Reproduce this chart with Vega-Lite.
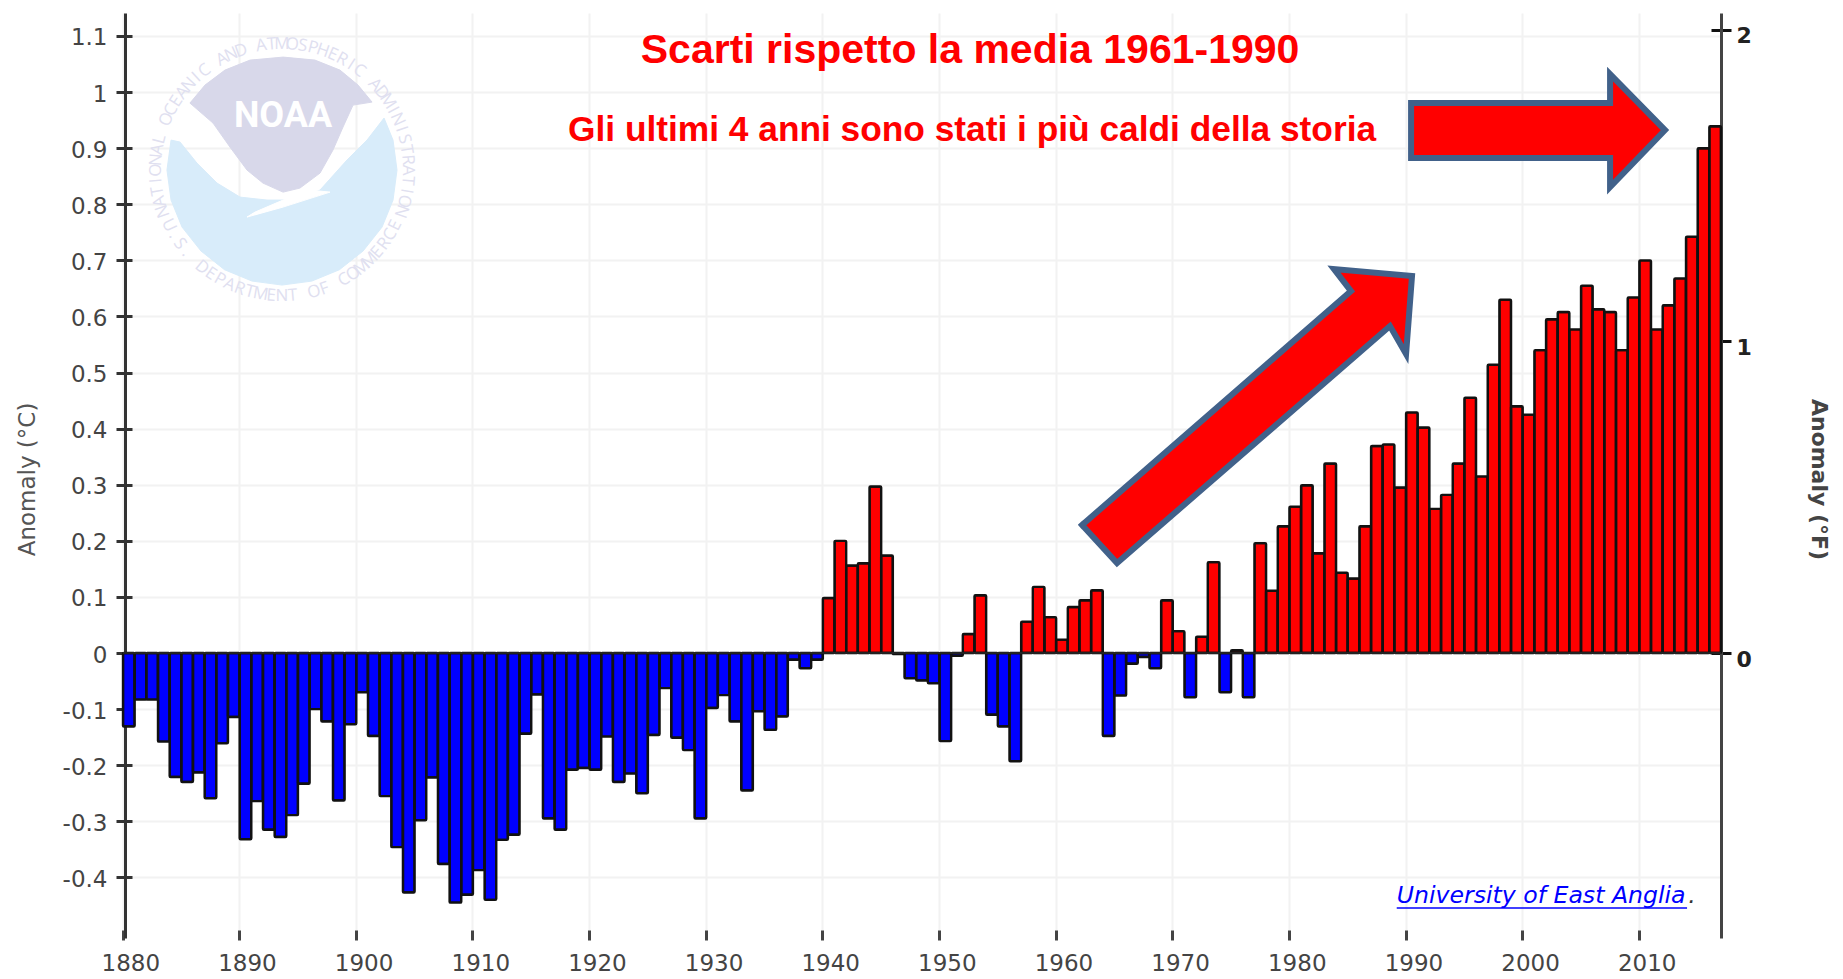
{"$schema":"https://vega.github.io/schema/vega-lite/v6.json","width":1598,"height":925,"autosize":{"type":"none"},"padding":{"left":123,"top":13,"right":122,"bottom":41},"background":"#ffffff","config":{"view":{"stroke":null}},"resolve":{"scale":{"x":"independent","y":"independent"},"axis":{"x":"independent","y":"independent"}},"layer":[
{"data":{"values":[{"year":1880,"anomaly":-0.131,"sign":"neg"},{"year":1881,"anomaly":-0.083,"sign":"neg"},{"year":1882,"anomaly":-0.083,"sign":"neg"},{"year":1883,"anomaly":-0.158,"sign":"neg"},{"year":1884,"anomaly":-0.221,"sign":"neg"},{"year":1885,"anomaly":-0.23,"sign":"neg"},{"year":1886,"anomaly":-0.213,"sign":"neg"},{"year":1887,"anomaly":-0.259,"sign":"neg"},{"year":1888,"anomaly":-0.161,"sign":"neg"},{"year":1889,"anomaly":-0.114,"sign":"neg"},{"year":1890,"anomaly":-0.332,"sign":"neg"},{"year":1891,"anomaly":-0.264,"sign":"neg"},{"year":1892,"anomaly":-0.315,"sign":"neg"},{"year":1893,"anomaly":-0.328,"sign":"neg"},{"year":1894,"anomaly":-0.289,"sign":"neg"},{"year":1895,"anomaly":-0.233,"sign":"neg"},{"year":1896,"anomaly":-0.1,"sign":"neg"},{"year":1897,"anomaly":-0.122,"sign":"neg"},{"year":1898,"anomaly":-0.263,"sign":"neg"},{"year":1899,"anomaly":-0.127,"sign":"neg"},{"year":1900,"anomaly":-0.07,"sign":"neg"},{"year":1901,"anomaly":-0.148,"sign":"neg"},{"year":1902,"anomaly":-0.255,"sign":"neg"},{"year":1903,"anomaly":-0.346,"sign":"neg"},{"year":1904,"anomaly":-0.427,"sign":"neg"},{"year":1905,"anomaly":-0.298,"sign":"neg"},{"year":1906,"anomaly":-0.222,"sign":"neg"},{"year":1907,"anomaly":-0.376,"sign":"neg"},{"year":1908,"anomaly":-0.445,"sign":"neg"},{"year":1909,"anomaly":-0.431,"sign":"neg"},{"year":1910,"anomaly":-0.387,"sign":"neg"},{"year":1911,"anomaly":-0.44,"sign":"neg"},{"year":1912,"anomaly":-0.333,"sign":"neg"},{"year":1913,"anomaly":-0.324,"sign":"neg"},{"year":1914,"anomaly":-0.144,"sign":"neg"},{"year":1915,"anomaly":-0.074,"sign":"neg"},{"year":1916,"anomaly":-0.295,"sign":"neg"},{"year":1917,"anomaly":-0.315,"sign":"neg"},{"year":1918,"anomaly":-0.208,"sign":"neg"},{"year":1919,"anomaly":-0.205,"sign":"neg"},{"year":1920,"anomaly":-0.208,"sign":"neg"},{"year":1921,"anomaly":-0.149,"sign":"neg"},{"year":1922,"anomaly":-0.23,"sign":"neg"},{"year":1923,"anomaly":-0.215,"sign":"neg"},{"year":1924,"anomaly":-0.25,"sign":"neg"},{"year":1925,"anomaly":-0.146,"sign":"neg"},{"year":1926,"anomaly":-0.0625,"sign":"neg"},{"year":1927,"anomaly":-0.151,"sign":"neg"},{"year":1928,"anomaly":-0.173,"sign":"neg"},{"year":1929,"anomaly":-0.295,"sign":"neg"},{"year":1930,"anomaly":-0.098,"sign":"neg"},{"year":1931,"anomaly":-0.075,"sign":"neg"},{"year":1932,"anomaly":-0.122,"sign":"neg"},{"year":1933,"anomaly":-0.245,"sign":"neg"},{"year":1934,"anomaly":-0.104,"sign":"neg"},{"year":1935,"anomaly":-0.137,"sign":"neg"},{"year":1936,"anomaly":-0.113,"sign":"neg"},{"year":1937,"anomaly":-0.012,"sign":"neg"},{"year":1938,"anomaly":-0.027,"sign":"neg"},{"year":1939,"anomaly":-0.012,"sign":"neg"},{"year":1940,"anomaly":0.098,"sign":"pos"},{"year":1941,"anomaly":0.2,"sign":"pos"},{"year":1942,"anomaly":0.156,"sign":"pos"},{"year":1943,"anomaly":0.16,"sign":"pos"},{"year":1944,"anomaly":0.297,"sign":"pos"},{"year":1945,"anomaly":0.174,"sign":"pos"},{"year":1946,"anomaly":-0.002,"sign":"neg"},{"year":1947,"anomaly":-0.045,"sign":"neg"},{"year":1948,"anomaly":-0.049,"sign":"neg"},{"year":1949,"anomaly":-0.054,"sign":"neg"},{"year":1950,"anomaly":-0.157,"sign":"neg"},{"year":1951,"anomaly":-0.005,"sign":"neg"},{"year":1952,"anomaly":0.034,"sign":"pos"},{"year":1953,"anomaly":0.103,"sign":"pos"},{"year":1954,"anomaly":-0.11,"sign":"neg"},{"year":1955,"anomaly":-0.131,"sign":"neg"},{"year":1956,"anomaly":-0.193,"sign":"neg"},{"year":1957,"anomaly":0.056,"sign":"pos"},{"year":1958,"anomaly":0.118,"sign":"pos"},{"year":1959,"anomaly":0.064,"sign":"pos"},{"year":1960,"anomaly":0.024,"sign":"pos"},{"year":1961,"anomaly":0.082,"sign":"pos"},{"year":1962,"anomaly":0.094,"sign":"pos"},{"year":1963,"anomaly":0.112,"sign":"pos"},{"year":1964,"anomaly":-0.148,"sign":"neg"},{"year":1965,"anomaly":-0.076,"sign":"neg"},{"year":1966,"anomaly":-0.019,"sign":"neg"},{"year":1967,"anomaly":-0.007,"sign":"neg"},{"year":1968,"anomaly":-0.027,"sign":"neg"},{"year":1969,"anomaly":0.094,"sign":"pos"},{"year":1970,"anomaly":0.039,"sign":"pos"},{"year":1971,"anomaly":-0.079,"sign":"neg"},{"year":1972,"anomaly":0.029,"sign":"pos"},{"year":1973,"anomaly":0.162,"sign":"pos"},{"year":1974,"anomaly":-0.07,"sign":"neg"},{"year":1975,"anomaly":0.005,"sign":"pos"},{"year":1976,"anomaly":-0.079,"sign":"neg"},{"year":1977,"anomaly":0.196,"sign":"pos"},{"year":1978,"anomaly":0.111,"sign":"pos"},{"year":1979,"anomaly":0.226,"sign":"pos"},{"year":1980,"anomaly":0.261,"sign":"pos"},{"year":1981,"anomaly":0.299,"sign":"pos"},{"year":1982,"anomaly":0.178,"sign":"pos"},{"year":1983,"anomaly":0.338,"sign":"pos"},{"year":1984,"anomaly":0.143,"sign":"pos"},{"year":1985,"anomaly":0.133,"sign":"pos"},{"year":1986,"anomaly":0.226,"sign":"pos"},{"year":1987,"anomaly":0.369,"sign":"pos"},{"year":1988,"anomaly":0.372,"sign":"pos"},{"year":1989,"anomaly":0.295,"sign":"pos"},{"year":1990,"anomaly":0.429,"sign":"pos"},{"year":1991,"anomaly":0.402,"sign":"pos"},{"year":1992,"anomaly":0.257,"sign":"pos"},{"year":1993,"anomaly":0.282,"sign":"pos"},{"year":1994,"anomaly":0.338,"sign":"pos"},{"year":1995,"anomaly":0.455,"sign":"pos"},{"year":1996,"anomaly":0.315,"sign":"pos"},{"year":1997,"anomaly":0.514,"sign":"pos"},{"year":1998,"anomaly":0.63,"sign":"pos"},{"year":1999,"anomaly":0.44,"sign":"pos"},{"year":2000,"anomaly":0.425,"sign":"pos"},{"year":2001,"anomaly":0.54,"sign":"pos"},{"year":2002,"anomaly":0.595,"sign":"pos"},{"year":2003,"anomaly":0.608,"sign":"pos"},{"year":2004,"anomaly":0.577,"sign":"pos"},{"year":2005,"anomaly":0.655,"sign":"pos"},{"year":2006,"anomaly":0.613,"sign":"pos"},{"year":2007,"anomaly":0.608,"sign":"pos"},{"year":2008,"anomaly":0.54,"sign":"pos"},{"year":2009,"anomaly":0.634,"sign":"pos"},{"year":2010,"anomaly":0.7,"sign":"pos"},{"year":2011,"anomaly":0.577,"sign":"pos"},{"year":2012,"anomaly":0.62,"sign":"pos"},{"year":2013,"anomaly":0.668,"sign":"pos"},{"year":2014,"anomaly":0.742,"sign":"pos"},{"year":2015,"anomaly":0.9,"sign":"pos"},{"year":2016,"anomaly":0.939,"sign":"pos"}]},
"mark":{"type":"bar","stroke":"#111111","strokeWidth":2.4,"cornerRadius":1},
"encoding":{
"x":{"field":"year","type":"ordinal","scale":{"paddingInner":0,"paddingOuter":0},"axis":{"bandPosition":0,"values":[1880,1890,1900,1910,1920,1930,1940,1950,1960,1970,1980,1990,2000,2010],"labelAngle":0,"title":null,"domain":false,"offset":-8,"tickSize":10,"tickWidth":3,"tickColor":"#444444","grid":true,"gridColor":"#f2f2f2","gridWidth":2,"labelFont":"DejaVu Sans","labelFontSize":23,"labelColor":"#444444","labelPadding":12,"labelOffset":2}},
"y":{"field":"anomaly","type":"quantitative","scale":{"domain":[-0.508,1.141],"nice":false,"zero":false},"axis":{"orient":"left","values":[-0.4,-0.3,-0.2,-0.1,0,0.1,0.2,0.3,0.4,0.5,0.6,0.7,0.8,0.9,1,1.1],"labelExpr":"datum.value < 0 ? '-' + format(-datum.value, '~g') : format(datum.value, '~g')","offset":-9,"domain":false,"tickSize":16,"tickWidth":3,"tickColor":"#333333","grid":true,"gridColor":"#f2f2f2","gridWidth":2,"labelFont":"DejaVu Sans","labelFontSize":23,"labelColor":"#444444","labelPadding":9,"labelOffset":2,"title":"Anomaly (°C)","titleFont":"DejaVu Sans","titleFontSize":23,"titleFontWeight":"normal","titleColor":"#555555","titlePadding":23,"titleY":466}},
"fill":{"field":"sign","type":"nominal","scale":{"domain":["neg","pos"],"range":["#0000ff","#ff0000"]},"legend":null}}},
{"data":{"values":[{"c":0}]},"mark":{"type":"rule","stroke":"#222222","strokeWidth":2},"encoding":{"y":{"field":"c","type":"quantitative","scale":{"domain":[-0.508,1.141],"nice":false,"zero":false},"axis":{"orient":"left","offset":-2,"domain":true,"domainColor":"#333333","domainWidth":3,"ticks":false,"labels":false,"grid":false,"title":null}}}},
{"data":{"values":[{"f":0}]},"mark":{"type":"tick","opacity":0},"encoding":{"y":{"field":"f","type":"quantitative","scale":{"domain":[-0.9144,2.0538],"nice":false,"zero":false},"axis":{"orient":"right","values":[0,1,2],"format":"d","offset":-10,"domain":false,"tickSize":20,"tickWidth":3,"tickColor":"#111111","grid":false,"labelFont":"DejaVu Sans","labelFontSize":22,"labelFontWeight":"bold","labelColor":"#222222","labelPadding":5,"labelOffset":6,"title":"Anomaly (°F)","titleFont":"DejaVu Sans","titleFontSize":22,"titleFontWeight":"bold","titleColor":"#444444","titlePadding":55,"titleY":466}}}},
{"data":{"values":[{"f":0}]},"mark":{"type":"tick","opacity":0},"encoding":{"y":{"field":"f","type":"quantitative","scale":{"domain":[-0.9144,2.0538],"nice":false,"zero":false},"axis":{"orient":"right","offset":0,"domain":true,"domainColor":"#444444","domainWidth":3,"ticks":false,"labels":false,"grid":false,"title":null}}}},
{"data":{"values":[{"k":0,"px":1902.38,"v":0.9537},{"k":1,"px":1903.15,"v":0.9144},{"k":2,"px":1903.49,"v":0.861},{"k":3,"px":1903.15,"v":0.8075},{"k":4,"px":1902.21,"v":0.7594},{"k":5,"px":1900.58,"v":0.7166},{"k":6,"px":1898.56,"v":0.6834},{"k":7,"px":1896.19,"v":0.6631},{"k":8,"px":1893.63,"v":0.656},{"k":9,"px":1891.06,"v":0.6631},{"k":10,"px":1888.7,"v":0.6834},{"k":11,"px":1886.69,"v":0.7166},{"k":12,"px":1885.06,"v":0.7594},{"k":13,"px":1884.12,"v":0.8075},{"k":14,"px":1883.77,"v":0.861},{"k":15,"px":1884.12,"v":0.9144},{"k":16,"px":1884.89,"v":0.9109},{"k":17,"px":1886.34,"v":0.8734},{"k":18,"px":1888.06,"v":0.8378},{"k":19,"px":1890.03,"v":0.8128},{"k":20,"px":1892.35,"v":0.8075},{"k":21,"px":1894.57,"v":0.8075},{"k":22,"px":1896.89,"v":0.8253},{"k":23,"px":1899.2,"v":0.8788},{"k":24,"px":1900.92,"v":0.9144},{"k":25,"px":1902.38,"v":0.9537}]},"mark":{"type":"line","fill":"#d8ecfa","stroke":"#d8ecfa","strokeWidth":1},"encoding":{"order":{"field":"k","type":"quantitative"},"x":{"field":"px","type":"quantitative","scale":{"domain":[1880,2017],"nice":false,"zero":false},"axis":null},"y":{"field":"v","type":"quantitative","scale":{"domain":[-0.508,1.141],"nice":false,"zero":false},"axis":null}}},
{"data":{"values":[{"k":0,"px":1890.63,"v":0.7772},{"k":1,"px":1893.72,"v":0.795},{"k":2,"px":1897.75,"v":0.8217},{"k":3,"px":1896.03,"v":0.8253},{"k":4,"px":1893.72,"v":0.8075},{"k":5,"px":1891.32,"v":0.7861},{"k":6,"px":1890.63,"v":0.7772}]},"mark":{"type":"line","fill":"#ffffff","stroke":"#ffffff","strokeWidth":1},"encoding":{"order":{"field":"k","type":"quantitative"},"x":{"field":"px","type":"quantitative","scale":{"domain":[1880,2017],"nice":false,"zero":false},"axis":null},"y":{"field":"v","type":"quantitative","scale":{"domain":[-0.508,1.141],"nice":false,"zero":false},"axis":null}}},
{"data":{"values":[{"k":0,"px":1885.74,"v":0.9804},{"k":1,"px":1887.03,"v":1.0125},{"k":2,"px":1888.74,"v":1.0392},{"k":3,"px":1890.89,"v":1.057},{"k":4,"px":1893.72,"v":1.0624},{"k":5,"px":1896.46,"v":1.057},{"k":6,"px":1898.6,"v":1.0392},{"k":7,"px":1900.15,"v":1.0125},{"k":8,"px":1901.35,"v":0.9822},{"k":9,"px":1899.72,"v":0.9768},{"k":10,"px":1898.86,"v":0.9376},{"k":11,"px":1898.0,"v":0.8966},{"k":12,"px":1896.89,"v":0.8556},{"k":13,"px":1895.17,"v":0.8289},{"k":14,"px":1893.72,"v":0.8217},{"k":15,"px":1892.0,"v":0.8378},{"k":16,"px":1890.63,"v":0.861},{"k":17,"px":1889.17,"v":0.902},{"k":18,"px":1887.72,"v":0.9447},{"k":19,"px":1885.74,"v":0.9804}]},"mark":{"type":"line","fill":"#d8d8ea","stroke":"#d8d8ea","strokeWidth":1},"encoding":{"order":{"field":"k","type":"quantitative"},"x":{"field":"px","type":"quantitative","scale":{"domain":[1880,2017],"nice":false,"zero":false},"axis":null},"y":{"field":"v","type":"quantitative","scale":{"domain":[-0.508,1.141],"nice":false,"zero":false},"axis":null}}},
{"data":{"values":[{"t":"NOAA","px":1893.72,"v":0.957}]},"mark":{"type":"text","font":"Roboto","fontWeight":"bold","fontSize":36,"fill":"#ffffff","align":"center","baseline":"middle"},"encoding":{"text":{"field":"t"},"x":{"field":"px","type":"quantitative","scale":{"domain":[1880,2017],"nice":false,"zero":false},"axis":null},"y":{"field":"v","type":"quantitative","scale":{"domain":[-0.508,1.141],"nice":false,"zero":false},"axis":null}}},
{"data":{"values":[{"ch":"N","deg":-109,"rot":-109},{"ch":"A","deg":-104.3,"rot":-104.3},{"ch":"T","deg":-99.5,"rot":-99.5},{"ch":"I","deg":-94.8,"rot":-94.8},{"ch":"O","deg":-90,"rot":-90},{"ch":"N","deg":-85.3,"rot":-85.3},{"ch":"A","deg":-80.6,"rot":-80.6},{"ch":"L","deg":-75.8,"rot":-75.8},{"ch":"O","deg":-66.3,"rot":-66.3},{"ch":"C","deg":-61.6,"rot":-61.6},{"ch":"E","deg":-56.9,"rot":-56.9},{"ch":"A","deg":-52.1,"rot":-52.1},{"ch":"N","deg":-47.4,"rot":-47.4},{"ch":"I","deg":-42.6,"rot":-42.6},{"ch":"C","deg":-37.9,"rot":-37.9},{"ch":"A","deg":-28.4,"rot":-28.4},{"ch":"N","deg":-23.7,"rot":-23.7},{"ch":"D","deg":-18.9,"rot":-18.9},{"ch":"A","deg":-9.5,"rot":-9.5},{"ch":"T","deg":-4.7,"rot":-4.7},{"ch":"M","deg":0,"rot":0},{"ch":"O","deg":4.7,"rot":4.7},{"ch":"S","deg":9.5,"rot":9.5},{"ch":"P","deg":14.2,"rot":14.2},{"ch":"H","deg":18.9,"rot":18.9},{"ch":"E","deg":23.7,"rot":23.7},{"ch":"R","deg":28.4,"rot":28.4},{"ch":"I","deg":33.2,"rot":33.2},{"ch":"C","deg":37.9,"rot":37.9},{"ch":"A","deg":47.4,"rot":47.4},{"ch":"D","deg":52.1,"rot":52.1},{"ch":"M","deg":56.9,"rot":56.9},{"ch":"I","deg":61.6,"rot":61.6},{"ch":"N","deg":66.3,"rot":66.3},{"ch":"I","deg":71.1,"rot":71.1},{"ch":"S","deg":75.8,"rot":75.8},{"ch":"T","deg":80.6,"rot":80.6},{"ch":"R","deg":85.3,"rot":85.3},{"ch":"A","deg":90,"rot":90},{"ch":"T","deg":94.8,"rot":94.8},{"ch":"I","deg":99.5,"rot":99.5},{"ch":"O","deg":104.3,"rot":104.3},{"ch":"N","deg":109,"rot":109},{"ch":"U","deg":244,"rot":64},{"ch":".","deg":239.1,"rot":59.1},{"ch":"S","deg":234.2,"rot":54.2},{"ch":".","deg":229.2,"rot":49.2},{"ch":"D","deg":219.4,"rot":39.4},{"ch":"E","deg":214.5,"rot":34.5},{"ch":"P","deg":209.5,"rot":29.5},{"ch":"A","deg":204.6,"rot":24.6},{"ch":"R","deg":199.7,"rot":19.7},{"ch":"T","deg":194.8,"rot":14.8},{"ch":"M","deg":189.8,"rot":9.8},{"ch":"E","deg":184.9,"rot":4.9},{"ch":"N","deg":180,"rot":0},{"ch":"T","deg":175.1,"rot":-4.9},{"ch":"O","deg":165.2,"rot":-14.8},{"ch":"F","deg":160.3,"rot":-19.7},{"ch":"C","deg":150.5,"rot":-29.5},{"ch":"O","deg":145.5,"rot":-34.5},{"ch":"M","deg":140.6,"rot":-39.4},{"ch":"M","deg":135.7,"rot":-44.3},{"ch":"E","deg":130.8,"rot":-49.2},{"ch":"R","deg":125.8,"rot":-54.2},{"ch":"C","deg":120.9,"rot":-59.1},{"ch":"E","deg":116,"rot":-64}]},"mark":{"type":"text","font":"Open Sans","fontSize":17,"fill":"#e0e0f0","align":"center","baseline":"middle","radius":126},"encoding":{"text":{"field":"ch"},"theta":{"field":"deg","type":"quantitative","scale":{"domain":[-360,360],"range":[-6.28319,6.28319]}},"angle":{"field":"rot","type":"quantitative","scale":null},"x":{"datum":1893.63,"type":"quantitative","scale":{"domain":[1880,2017],"nice":false,"zero":false},"axis":null},"y":{"datum":0.861,"type":"quantitative","scale":{"domain":[-0.508,1.141],"nice":false,"zero":false},"axis":null}}},
{"data":{"values":[{"k":0,"px":1990.43,"v":0.9804},{"k":1,"px":2007.49,"v":0.9804},{"k":2,"px":2007.49,"v":1.0321},{"k":3,"px":2012.2,"v":0.9323},{"k":4,"px":2007.49,"v":0.8307},{"k":5,"px":2007.49,"v":0.8824},{"k":6,"px":1990.43,"v":0.8824},{"k":7,"px":1990.43,"v":0.9804}]},"mark":{"type":"line","fill":"#ff0000","stroke":"#41618a","strokeWidth":6,"strokeJoin":"miter","strokeCap":"square"},"encoding":{"order":{"field":"k","type":"quantitative"},"x":{"field":"px","type":"quantitative","scale":{"domain":[1880,2017],"nice":false,"zero":false},"axis":null},"y":{"field":"v","type":"quantitative","scale":{"domain":[-0.508,1.141],"nice":false,"zero":false},"axis":null}}},
{"data":{"values":[{"k":0,"px":1962.22,"v":0.2282},{"k":1,"px":1965.22,"v":0.1604},{"k":2,"px":1988.62,"v":0.5829},{"k":3,"px":1990.0,"v":0.533},{"k":4,"px":1990.51,"v":0.672},{"k":5,"px":1983.82,"v":0.6845},{"k":6,"px":1985.28,"v":0.6453},{"k":7,"px":1962.22,"v":0.2282}]},"mark":{"type":"line","fill":"#ff0000","stroke":"#41618a","strokeWidth":6,"strokeJoin":"miter","strokeCap":"square"},"encoding":{"order":{"field":"k","type":"quantitative"},"x":{"field":"px","type":"quantitative","scale":{"domain":[1880,2017],"nice":false,"zero":false},"axis":null},"y":{"field":"v","type":"quantitative","scale":{"domain":[-0.508,1.141],"nice":false,"zero":false},"axis":null}}},
{"data":{"values":[{"t":"Scarti rispetto la media 1961-1990","px":1952.62,"v":1.0724}]},"mark":{"type":"text","font":"Liberation Sans","fontWeight":"bold","fontSize":41,"fill":"#ff0000","align":"center","baseline":"middle"},"encoding":{"text":{"field":"t"},"x":{"field":"px","type":"quantitative","scale":{"domain":[1880,2017],"nice":false,"zero":false},"axis":null},"y":{"field":"v","type":"quantitative","scale":{"domain":[-0.508,1.141],"nice":false,"zero":false},"axis":null}}},
{"data":{"values":[{"t":"Gli ultimi 4 anni sono stati i più caldi della storia","px":1952.79,"v":0.9316}]},"mark":{"type":"text","font":"Liberation Sans","fontWeight":"bold","fontSize":35.3,"fill":"#ff0000","align":"center","baseline":"middle"},"encoding":{"text":{"field":"t"},"x":{"field":"px","type":"quantitative","scale":{"domain":[1880,2017],"nice":false,"zero":false},"axis":null},"y":{"field":"v","type":"quantitative","scale":{"domain":[-0.508,1.141],"nice":false,"zero":false},"axis":null}}},
{"data":{"values":[{"t":"University of East Anglia","px":1989.2,"v":-0.433}]},"mark":{"type":"text","font":"DejaVu Sans","fontStyle":"italic","fontSize":23.6,"fill":"#0000ff","align":"left","baseline":"middle"},"encoding":{"text":{"field":"t"},"x":{"field":"px","type":"quantitative","scale":{"domain":[1880,2017],"nice":false,"zero":false},"axis":null},"y":{"field":"v","type":"quantitative","scale":{"domain":[-0.508,1.141],"nice":false,"zero":false},"axis":null}}},
{"data":{"values":[{"t":".","px":2014.2,"v":-0.433}]},"mark":{"type":"text","font":"DejaVu Sans","fontStyle":"italic","fontSize":23.6,"fill":"#333333","align":"left","baseline":"middle"},"encoding":{"text":{"field":"t"},"x":{"field":"px","type":"quantitative","scale":{"domain":[1880,2017],"nice":false,"zero":false},"axis":null},"y":{"field":"v","type":"quantitative","scale":{"domain":[-0.508,1.141],"nice":false,"zero":false},"axis":null}}},
{"data":{"values":[{"a":1989.2,"b":2014.09,"v":-0.4545}]},"mark":{"type":"rule","stroke":"#0000ff","strokeWidth":1.5},"encoding":{"x":{"field":"a","type":"quantitative","scale":{"domain":[1880,2017],"nice":false,"zero":false},"axis":null},"x2":{"field":"b"},"y":{"field":"v","type":"quantitative","scale":{"domain":[-0.508,1.141],"nice":false,"zero":false},"axis":null}}}
]}
